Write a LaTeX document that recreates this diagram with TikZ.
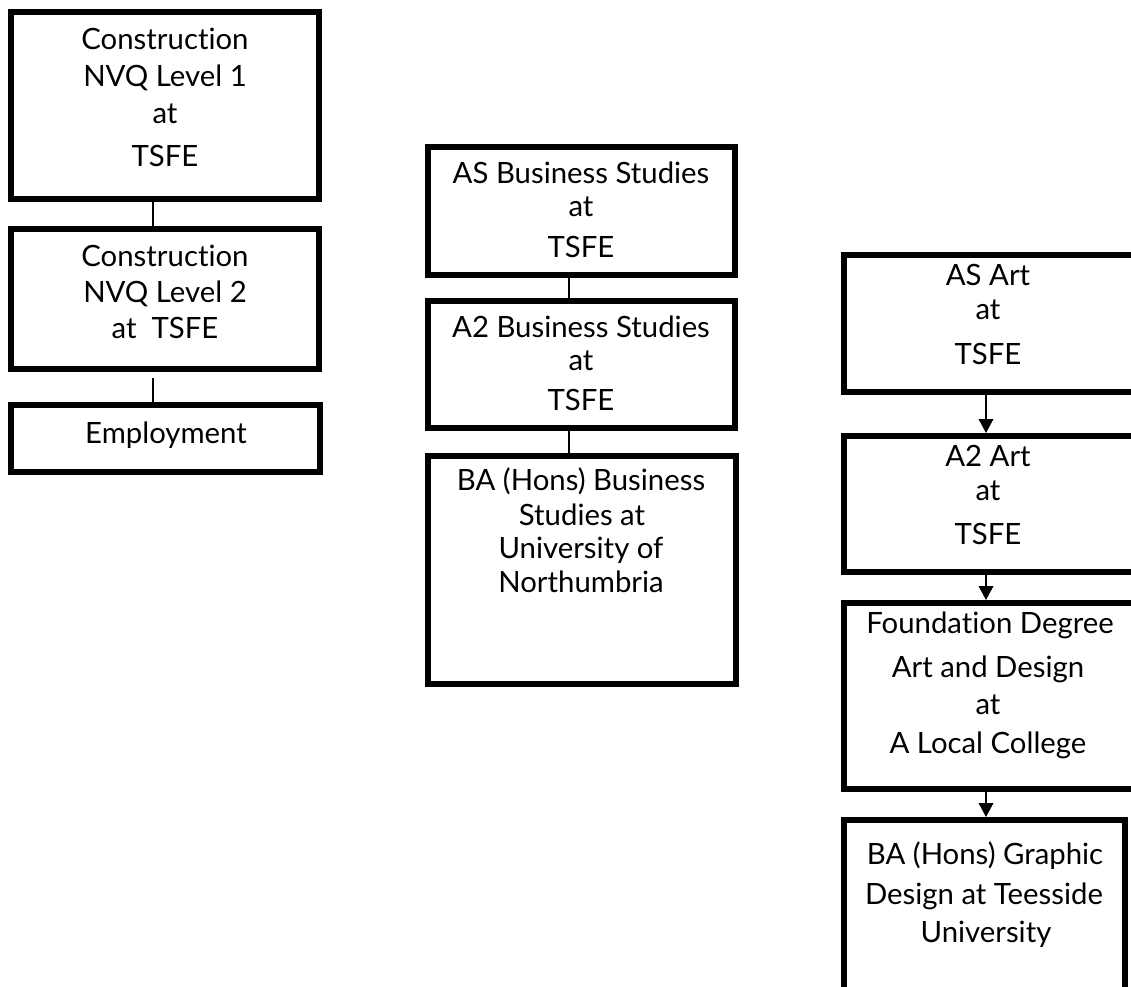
\documentclass[tikz,border=0pt]{standalone}
\usepackage{fontspec}
\setmainfont{Lato}[Ligatures={NoCommon,NoRare}]
\usetikzlibrary{arrows.meta}
\tikzset{
  box/.style={draw=black, line width=4.5pt, rectangle, inner sep=0pt, fill=none},
  txt/.style={anchor=base, inner sep=0pt, font=\fontsize{22}{26}\selectfont, text=black},
  link/.style={draw=black, line width=1.1pt},
  arr/.style={draw=black, line width=1.1pt, -{Triangle[width=11pt,length=10.5pt]}},
}
\newcommand\bx[5]{\node[box, minimum width={(#4-#2)*0.75pt}, minimum height={(#5-#3)*0.75pt}] (#1) at ({(#2+#4)/2},{(#3+#5)/2}) {};}
\newcommand\tl[4]{\node[txt] (#1) at (#2,#3) {#4};}
\begin{document}
\begin{tikzpicture}[x=0.75pt,y=-0.75pt]
\useasboundingbox (0,0) rectangle (1131,987);
\clip (0,0) rectangle (1131,987);
% left column
\bx{l1}{11}{12}{319}{199}
\bx{l2}{11}{229}{319}{369}
\bx{l3}{11}{405}{320}{472}
% middle column
\bx{m1}{428}{147}{735}{275}
\bx{m2}{428}{301}{735}{428}
\bx{m3}{428}{456}{736}{684}
% right column
\bx{r1}{844}{255}{1136}{392}
\bx{r2}{844}{436}{1136}{572}
\bx{r3}{844}{603}{1136}{789}
\bx{r4}{844}{820}{1125}{1000}
% x positions of connectors
\coordinate (lx) at (153,0);
\coordinate (mx) at (569,0);
\coordinate (rx) at (986,0);
% connectors
\draw[link] (l1.south -| lx) -- (l2.north -| lx);
\draw[link] (l2.south -| lx) ++(0,6) -- (l3.north -| lx);
\draw[link] (m1.south -| mx) -- (m2.north -| mx);
\draw[link] (m2.south -| mx) -- (m3.north -| mx);
\draw[arr] (r1.south -| rx) -- (r2.north -| rx);
\draw[arr] (r2.south -| rx) -- (r3.north -| rx);
\draw[arr] (r3.south -| rx) -- (r4.north -| rx);
% texts left
\tl{ta1}{165}{50}{Construction}
\tl{ta2}{165}{87}{NVQ Level 1}
\tl{ta3}{165}{124}{at}
\tl{ta4}{165}{167}{TSFE}
\tl{tb1}{165}{267}{Construction}
\tl{tb2}{165}{303}{NVQ Level 2}
\tl{tb3}{165}{339}{at\ \ TSFE}
\tl{tc1}{166}{443}{Employment}
% texts middle
\tl{td1}{581}{184}{AS Business Studies}
\tl{td2}{581}{217}{at}
\tl{td3}{581}{258}{TSFE}
\tl{te1}{581}{338}{A2 Business Studies}
\tl{te2}{581}{371}{at}
\tl{te3}{581}{411}{TSFE}
\tl{tf1}{581}{490}{BA (Hons) Business}
\tl{tf2}{582}{525}{Studies at}
\tl{tf3}{581}{558}{University of}
\tl{tf4}{581}{592}{Northumbria}
% texts right
\tl{tg1}{988}{286}{AS Art}
\tl{tg2}{988}{320}{at}
\tl{tg3}{988}{364}{TSFE}
\tl{th1}{988}{466}{A2 Art}
\tl{th2}{988}{500}{at}
\tl{th3}{988}{544}{TSFE}
\tl{ti1}{990}{633}{Foundation Degree}
\tl{ti2}{988}{677}{Art and Design}
\tl{ti3}{988}{714}{at}
\tl{ti4}{988}{753}{A Local College}
\tl{tj1}{985}{864}{BA (Hons) Graphic}
\tl{tj2}{984}{904}{Design at Teesside}
\tl{tj3}{986}{942}{University}
\end{tikzpicture}
\end{document}
